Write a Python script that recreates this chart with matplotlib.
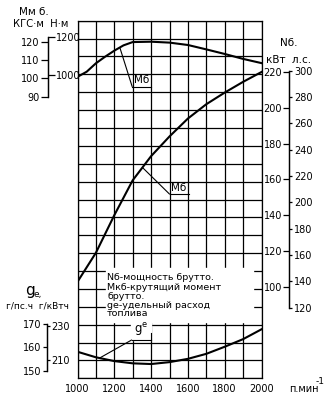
import numpy as np
import matplotlib.pyplot as plt
from matplotlib.patches import Rectangle

# крутящий момент брутто, кгс·м
rpm_m = [1000, 1050, 1100, 1150, 1200, 1250, 1300, 1400, 1500, 1600, 1700, 1800, 1900, 2000]
torque = [100.8, 103.6, 108.2, 111.8, 115.1, 118.0, 119.8, 120.0, 119.5, 118.2, 115.8, 113.3, 110.6, 108.3]

# мощность брутто, кВт
rpm_n = [1000, 1100, 1200, 1300, 1400, 1500, 1600, 1700, 1800, 1900, 2000]
power = [102.8, 119.0, 140.0, 159.5, 173.0, 184.0, 194.0, 202.0, 208.5, 214.5, 220.0]

# удельный расход топлива, г/кВтч
rpm_g = [1000, 1100, 1200, 1300, 1400, 1500, 1600, 1700, 1800, 1900, 2000]
fuel = [215.0, 211.8, 209.6, 208.3, 207.9, 209.0, 210.9, 213.8, 217.9, 222.3, 228.0]

x_ticks = list(range(1000, 2001, 100))
x_labels = [str(v) if v % 200 == 0 else '' for v in x_ticks]
kgf_ticks = [90, 100, 110, 120]
nm_ticks = [1000, 1200]
kw_ticks = [100, 120, 140, 160, 180, 200, 220]
hp_ticks = [120, 140, 160, 180, 200, 220, 240, 260, 280, 300]
gph_ticks = [150, 160, 170]
gkwh_ticks = [210, 230]

NM = 9.80665    # Н·м в 1 кгс·м
KW = 0.7355     # кВт в 1 л.с.

W, H = 327, 400
L, R, T, B = 77.5, 261.5, 20.7, 378.3


def px(x, y):
    return x / W, 1 - y / H


def lims(v, y, k):
    # пределы оси по значению v на высоте y (пиксели) и масштабу k пикс/ед.
    return v - (B - y) / k, v + (y - T) / k


fig = plt.figure(figsize=(W / 100, H / 100), dpi=100)
box = [L / W, 1 - B / H, (R - L) / W, (B - T) / H]

ax = fig.add_axes(box)
ax.set_xlim(1000, 2000)
ax.set_ylim(0, 20)
ax.set_xticks(x_ticks)
ax.set_xticklabels(x_labels, fontsize=7)
ax.set_yticks(range(21))
ax.set_yticklabels([])
ax.tick_params(length=0, pad=4)
ax.grid(True, color='black', lw=0.9)
for s in ax.spines.values():
    s.set_linewidth(0.9)


def overlay(lo, hi):
    a = fig.add_axes(box, sharex=ax)
    a.set_ylim(lo, hi)
    a.axis('off')
    return a


axm = overlay(*lims(100, 78.3, 1.83))
axn = overlay(*lims(220, 72, 1.79))
axg = overlay(*lims(210, 360.4, 1.728))

axm.plot(rpm_m, torque, 'k', lw=1.5)
axn.plot(rpm_n, power, 'k', lw=1.5)
axg.plot(rpm_g, fuel, 'k', lw=1.5)

lead = dict(arrowstyle='-', lw=0.8, color='black', shrinkA=0, shrinkB=0)

# подписи кривых
axm.annotate('', xy=(1230, np.interp(1230, rpm_m, torque)), xytext=(1297, 95.5), arrowprops=lead)
axm.plot([1297, 1397], [95.5, 95.5], 'k', lw=0.8)
axm.text(1347, 96.3, 'Мб', ha='center', va='bottom', fontsize=7.5)

axn.annotate('', xy=(1353, np.interp(1353, rpm_n, power)), xytext=(1500, 151.8), arrowprops=lead)
axn.plot([1500, 1605], [151.8, 151.8], 'k', lw=0.8)
axn.text(1552, 152.6, 'Мб', ha='center', va='bottom', fontsize=7.5)

axg.add_patch(Rectangle((1292, 221.8), 108, 10.4, color='white', zorder=3))
axg.annotate('', xy=(1120, np.interp(1120, rpm_g, fuel)), xytext=(1294, 221.8), arrowprops=lead)
axg.plot([1294, 1400], [221.8, 221.8], 'k', lw=0.8, zorder=4)
axg.plot([1400, 1400], [221.8, 225.8], 'k', lw=0.8, zorder=4)
axg.text(1347, 225.9, r'g$^{\mathrm{e}}$', ha='center', va='baseline', fontsize=8.5, zorder=4)

# пояснения
ax.add_patch(Rectangle((1155, 3.15), 798, 3.0, color='white', zorder=3))
legend_lines = ['Nб-мощность брутто.', 'Мкб-крутящий момент', 'брутто.',
                'gе-удельный расход', 'топлива']
for txt, y in zip(legend_lines, [278, 287, 296.5, 305, 314]):
    fig.text(*px(107, y), txt, fontsize=6.8, va='center', ha='left')


def scale(xpix, lo, hi, ticks, bounds, length, pad):
    a = fig.add_axes([xpix / W, box[1], 0.05, box[3]])
    a.set_ylim(lo, hi)
    a.set_xticks([])
    a.patch.set_visible(False)
    for k in ('top', 'right', 'bottom'):
        a.spines[k].set_visible(False)
    a.spines['left'].set_bounds(*bounds)
    a.spines['left'].set_linewidth(0.9)
    a.set_yticks(ticks)
    a.tick_params(axis='y', labelsize=7, length=length, pad=pad, width=0.9)
    return a


def inner(a, factor, ticks, bounds, length, pad):
    b = a.twinx()
    lo, hi = a.get_ylim()
    b.set_ylim(lo * factor, hi * factor)
    for k in ('top', 'left', 'bottom'):
        b.spines[k].set_visible(False)
    b.spines['right'].set_position(('axes', 0))
    b.spines['right'].set_bounds(*bounds)
    b.spines['right'].set_linewidth(0.9)
    b.set_yticks(ticks)
    b.tick_params(axis='y', labelsize=7, length=length, pad=pad, width=0.9)
    return b


# шкала момента: кгс·м слева, Н·м справа
sm = scale(48, *axm.get_ylim(), kgf_ticks, (90, 1200 / NM), 5, 1)
inner(sm, NM, nm_ticks, (90 * NM, 1200), 5, 1)

# шкала мощности: кВт слева, л.с. справа
lo, hi = axn.get_ylim()
sn = scale(289, lo, hi, kw_ticks, (120 * KW, 300 * KW), 4, 1)
inner(sn, 1 / KW, hp_ticks, (120, 300), 2.5, 1)

# шкала расхода: г/л.с.ч слева, г/кВтч справа
lo, hi = axg.get_ylim()
sg = scale(47, lo * KW, hi * KW, gph_ticks, (150, 170), 3, 1)
inner(sg, 1 / KW, gkwh_ticks, (150 / KW, 170 / KW), 2, 1)

# заголовки шкал
fig.text(*px(34, 12), 'Мм б.', fontsize=7.5, ha='center', va='center')
fig.text(*px(41, 24), 'КГС·м  Н·м', fontsize=7.2, ha='center', va='center')
fig.text(*px(289, 43), 'Nб.', fontsize=7.5, ha='center', va='center')
fig.text(*px(289, 60), 'кВт  л.с.', fontsize=7.5, ha='center', va='center')
fig.text(*px(30, 291), 'g', fontsize=11, ha='center', va='center')
fig.text(*px(38, 295), 'е,', fontsize=6.5, ha='center', va='center')
fig.text(*px(37, 306), 'г/пс.ч  г/кВтч', fontsize=6.5, ha='center', va='center')
fig.text(*px(304, 389), 'п.мин', fontsize=7, ha='center', va='center')
fig.text(*px(320, 381), '-1', fontsize=6.5, ha='center', va='center')

fig.savefig('out.png', dpi=100)
